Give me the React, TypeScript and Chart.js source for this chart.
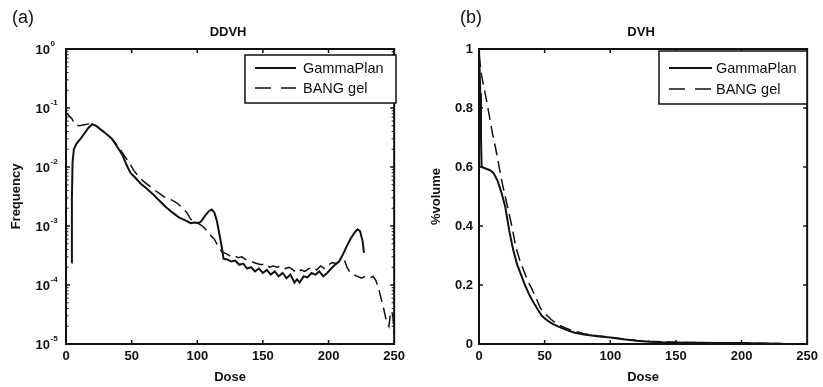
import React, { useEffect, useRef } from "react";
import { Chart, registerables } from "chart.js";

Chart.register(...registerables);

const FONT = '"Liberation Sans", Arial, Helvetica, sans-serif';
const INK = "#111";

// ---- tick values ----
const doseTicks = [0, 50, 100, 150, 200, 250];
const ddvhExponents = [-5, -4, -3, -2, -1, 0];
const dvhTicks = [0, 0.2, 0.4, 0.6, 0.8, 1];
const seriesLabels = ["GammaPlan", "BANG gel"];

// ---- (a) DDVH : GammaPlan ----
const ddvhGammaDose = [4, 4.5, 5, 6, 8, 11, 14, 17, 20, 23, 27, 31, 35, 39, 43, 46, 49, 53, 57, 61, 66, 71, 76, 81, 86, 91, 95, 98, 101, 103, 106, 109, 111, 113, 115, 117, 119, 120, 123, 126, 129, 132, 135, 138, 141, 144, 147, 150, 153, 156, 159, 162, 165, 168, 171, 174, 176, 178, 181, 184, 187, 190, 193, 196, 199, 202, 205, 208, 211, 214, 217, 220, 222, 224, 226, 227];
const ddvhGammaFreq = [2.4e-4, 0.003, 0.012, 0.02, 0.025, 0.03, 0.037, 0.046, 0.053, 0.05, 0.042, 0.036, 0.03, 0.022, 0.016, 0.011, 0.008, 0.0065, 0.0052, 0.0044, 0.0035, 0.0027, 0.0021, 0.0017, 0.0014, 0.00125, 0.00112, 0.00115, 0.00112, 0.0012, 0.0015, 0.0018, 0.0019, 0.0017, 0.0012, 0.0007, 0.0004, 0.00028, 0.00027, 0.00025, 0.00026, 0.00022, 0.00023, 0.00019, 0.0002, 0.00017, 0.00019, 0.00016, 0.00018, 0.00015, 0.00017, 0.00014, 0.00016, 0.00013, 0.00015, 0.00011, 0.000125, 0.00011, 0.00014, 0.000135, 0.00016, 0.00015, 0.00017, 0.00014, 0.00016, 0.00019, 0.00022, 0.00025, 0.00033, 0.00046, 0.00062, 0.00078, 0.00088, 0.00082, 0.00055, 0.00035];

// ---- (a) DDVH : BANG gel ----
const ddvhBangDose = [0, 2, 4.5, 7, 10, 14, 18, 21, 25, 30, 35, 40, 44, 48, 52, 56, 60, 65, 70, 75, 80, 84, 88, 92, 95, 98, 101, 104, 107, 110, 113, 116, 119, 122, 125, 128, 131, 134, 137, 140, 143, 146, 149, 152, 155, 158, 161, 164, 167, 170, 173, 176, 179, 182, 185, 188, 191, 194, 197, 200, 203, 206, 209, 212, 214, 216, 219, 222, 225, 228, 231, 234, 236, 238, 240, 242, 244, 246, 247, 248, 249, 250];
const ddvhBangFreq = [0.085, 0.075, 0.066, 0.052, 0.05, 0.052, 0.054, 0.053, 0.046, 0.038, 0.03, 0.022, 0.016, 0.012, 0.0085, 0.0066, 0.0055, 0.0045, 0.0037, 0.0031, 0.0028, 0.0025, 0.0021, 0.0017, 0.0013, 0.0012, 0.0011, 0.001, 0.00085, 0.0007, 0.0006, 0.00045, 0.00036, 0.00034, 0.00031, 0.00032, 0.00029, 0.0003, 0.00027, 0.00026, 0.00024, 0.00023, 0.00022, 0.00023, 0.0002, 0.00021, 0.0002, 0.00021, 0.00019, 0.0002, 0.00018, 0.00016, 0.00018, 0.00017, 0.00019, 0.0002, 0.00018, 0.00021, 0.00019, 0.00022, 0.00024, 0.00023, 0.00026, 0.00027, 0.0002, 0.00017, 0.00015, 0.00014, 0.00013, 0.00014, 0.00013, 0.00014, 0.00012, 0.00009, 0.00006, 0.00004, 0.000025, 0.00002, 0.00003, 0.000036, 0.00003, 0.000015];

// ---- (b) DVH : GammaPlan ----
const dvhGammaDose = [0, 1, 1.5, 2, 5, 8, 11, 14, 17, 20, 23, 26, 29, 32, 35, 38, 41, 45, 48, 52, 56, 61, 67, 73, 80, 90, 100, 110, 120, 130, 140, 150, 160, 170, 180, 190, 200, 210, 220, 230, 250];
const dvhGammaVol = [1.0, 0.85, 0.7, 0.6, 0.595, 0.59, 0.58, 0.555, 0.515, 0.465, 0.385, 0.32, 0.27, 0.235, 0.2, 0.17, 0.145, 0.115, 0.095, 0.08, 0.068, 0.058, 0.047, 0.038, 0.032, 0.026, 0.022, 0.016, 0.011, 0.008, 0.006, 0.005, 0.0045, 0.004, 0.0035, 0.003, 0.003, 0.0025, 0.002, 0.0005, 0];

// ---- (b) DVH : BANG gel ----
const dvhBangDose = [0, 2, 6, 10, 13.5, 17, 21, 25, 28, 31, 34, 37, 40.5, 44, 47, 51, 55, 60, 66, 72, 80, 90, 100, 110, 120, 130, 140, 150, 160, 170, 180, 190, 200, 210, 220, 235, 250];
const dvhBangVol = [0.98, 0.91, 0.82, 0.72, 0.645, 0.56, 0.48, 0.4, 0.33, 0.285, 0.25, 0.215, 0.185, 0.15, 0.12, 0.1, 0.083, 0.066, 0.054, 0.044, 0.035, 0.028, 0.023, 0.017, 0.012, 0.009, 0.007, 0.006, 0.005, 0.0045, 0.004, 0.004, 0.0035, 0.003, 0.002, 0.001, 0.0005];

const toPoints = (xs: number[], ys: number[]) => xs.map((x, i) => ({ x, y: ys[i] }));

type Decor = {
  panelLabel: string;
  panelX: number;
  title: string;
  box: { x: number; y: number; w: number; h: number };
  rows: number[];
  lineX: [number, number];
  textX: number;
  logY: boolean;
};

function decorPlugin(d: Decor) {
  return {
    id: "decor",
    afterDraw(chart: any) {
      const { ctx, chartArea: a, scales } = chart;
      const xs = scales.x;
      const ys = scales.y;
      const seg = (x1: number, y1: number, x2: number, y2: number) => {
        ctx.beginPath();
        ctx.moveTo(x1, y1);
        ctx.lineTo(x2, y2);
        ctx.stroke();
      };
      ctx.save();
      ctx.strokeStyle = INK;
      ctx.fillStyle = INK;
      // inward ticks
      ctx.lineWidth = 1.5;
      for (const v of doseTicks) {
        const px = xs.getPixelForValue(v);
        seg(px, a.bottom, px, a.bottom - 4);
        seg(px, a.top, px, a.top + 4);
      }
      const yMajor = d.logY ? ddvhExponents.map((e) => Math.pow(10, e)) : dvhTicks;
      for (const v of yMajor) {
        const py = ys.getPixelForValue(v);
        seg(a.left, py, a.left + 4, py);
        seg(a.right, py, a.right - 4, py);
      }
      if (d.logY) {
        ctx.lineWidth = 1;
        for (const e of ddvhExponents.slice(0, -1)) {
          for (let m = 2; m <= 9; m++) {
            const py = ys.getPixelForValue(m * Math.pow(10, e));
            seg(a.left, py, a.left + 2.5, py);
            seg(a.right, py, a.right - 2.5, py);
          }
        }
        // log tick labels 10^e
        for (const e of ddvhExponents) {
          const py = ys.getPixelForValue(Math.pow(10, e));
          ctx.font = `bold 13px ${FONT}`;
          ctx.textAlign = "right";
          ctx.textBaseline = "middle";
          ctx.fillText("10", 50, py + 1);
          ctx.font = `bold 8px ${FONT}`;
          ctx.textAlign = "left";
          ctx.textBaseline = "alphabetic";
          ctx.fillText(String(e), 50.5, py - 3);
        }
      }
      // frame
      ctx.lineWidth = 2;
      ctx.strokeRect(a.left, a.top, a.right - a.left, a.bottom - a.top);
      // title and panel label
      ctx.font = `bold 13px ${FONT}`;
      ctx.textAlign = "center";
      ctx.textBaseline = "middle";
      ctx.fillText(d.title, (a.left + a.right) / 2 - 2, 32);
      ctx.font = `18px ${FONT}`;
      ctx.textAlign = "left";
      ctx.fillText(d.panelLabel, d.panelX, 18);
      // legend
      const b = d.box;
      ctx.fillStyle = "#fff";
      ctx.fillRect(b.x, b.y, b.w, b.h);
      ctx.lineWidth = 1.5;
      ctx.strokeRect(b.x, b.y, b.w, b.h);
      ctx.fillStyle = INK;
      ctx.font = `14.5px ${FONT}`;
      ctx.textBaseline = "middle";
      seriesLabels.forEach((lab, i) => {
        const y = d.rows[i];
        ctx.lineWidth = i === 0 ? 2 : 1.5;
        ctx.setLineDash(i === 0 ? [] : [16, 10]);
        seg(d.lineX[0], y, d.lineX[1], y);
        ctx.setLineDash([]);
        ctx.fillText(lab, d.textX, y + 1);
      });
      ctx.restore();
    },
  };
}

const tickFont = { family: FONT, size: 13, weight: "bold" as const };

function makeConfig(opts: {
  logY: boolean;
  yWidth: number;
  yTitle: string;
  yTitlePad: number;
  datasets: any[];
  decor: Decor;
}) {
  const yScale: any = opts.logY
    ? {
        type: "logarithmic",
        min: 1e-5,
        max: 1,
        afterBuildTicks: (s: any) => {
          s.ticks = ddvhExponents.map((e) => ({ value: Math.pow(10, e) }));
        },
        ticks: { display: false },
      }
    : {
        type: "linear",
        min: 0,
        max: 1,
        afterBuildTicks: (s: any) => {
          s.ticks = dvhTicks.map((v) => ({ value: v }));
        },
        ticks: {
          font: tickFont,
          color: INK,
          padding: 6,
          autoSkip: false,
          callback: (v: any) => String(v),
        },
      };
  yScale.afterFit = (s: any) => {
    s.width = opts.yWidth;
  };
  yScale.grid = { display: false, drawTicks: false };
  yScale.border = { display: false };
  yScale.title = {
    display: true,
    text: opts.yTitle,
    font: tickFont,
    color: INK,
    padding: { top: opts.yTitlePad, bottom: 0 },
  };
  return {
    type: "line" as const,
    data: { datasets: opts.datasets },
    options: {
      responsive: false,
      animation: false as const,
      devicePixelRatio: 1,
      layout: { padding: { left: 0, right: 11, top: 49, bottom: 0 } },
      plugins: { legend: { display: false }, tooltip: { enabled: false }, title: { display: false } },
      scales: {
        x: {
          type: "linear",
          min: 0,
          max: 250,
          afterBuildTicks: (s: any) => {
            s.ticks = doseTicks.map((v) => ({ value: v }));
          },
          afterFit: (s: any) => {
            s.height = 43;
          },
          grid: { display: false, drawTicks: false },
          border: { display: false },
          ticks: {
            font: tickFont,
            color: INK,
            padding: 5,
            maxRotation: 0,
            autoSkip: false,
            callback: (v: any) => String(v),
          },
          title: {
            display: true,
            text: "Dose",
            font: tickFont,
            color: INK,
            padding: { top: 0, bottom: 2 },
          },
        },
        y: yScale,
      },
    },
    plugins: [decorPlugin(opts.decor)],
  };
}

const solid = (label: string, data: any[]) => ({
  label,
  data,
  borderColor: INK,
  borderWidth: 2,
  pointRadius: 0,
  fill: false,
  tension: 0,
});
const dashed = (label: string, data: any[]) => ({
  label,
  data,
  borderColor: INK,
  borderWidth: 1.5,
  borderDash: [12, 6],
  pointRadius: 0,
  fill: false,
  tension: 0,
});

export default function App() {
  const leftRef = useRef<HTMLCanvasElement | null>(null);
  const rightRef = useRef<HTMLCanvasElement | null>(null);

  useEffect(() => {
    Chart.defaults.font.family = FONT;
    Chart.defaults.color = INK;
    const left = new Chart(
      leftRef.current as HTMLCanvasElement,
      makeConfig({
        logY: true,
        yWidth: 66,
        yTitle: "Frequency",
        yTitlePad: 9,
        datasets: [
          solid(seriesLabels[0], toPoints(ddvhGammaDose, ddvhGammaFreq)),
          dashed(seriesLabels[1], toPoints(ddvhBangDose, ddvhBangFreq)),
        ],
        decor: {
          panelLabel: "(a)",
          panelX: 12,
          title: "DDVH",
          box: { x: 245, y: 55, w: 151, h: 48 },
          rows: [68, 88],
          lineX: [255, 296],
          textX: 303,
          logY: true,
        },
      }) as any
    );
    const right = new Chart(
      rightRef.current as HTMLCanvasElement,
      makeConfig({
        logY: false,
        yWidth: 69,
        yTitle: "%volume",
        yTitlePad: 19,
        datasets: [
          solid(seriesLabels[0], toPoints(dvhGammaDose, dvhGammaVol)),
          dashed(seriesLabels[1], toPoints(dvhBangDose, dvhBangVol)),
        ],
        decor: {
          panelLabel: "(b)",
          panelX: 50,
          title: "DVH",
          box: { x: 249, y: 51, w: 148, h: 53 },
          rows: [68, 89],
          lineX: [259, 302],
          textX: 306,
          logY: false,
        },
      }) as any
    );
    return () => {
      left.destroy();
      right.destroy();
    };
  }, []);

  return (
    <div style={{ position: "fixed", left: 0, top: 0, width: 823, height: 387, background: "#fff" }}>
      <canvas ref={leftRef} width={410} height={387} style={{ position: "absolute", left: 0, top: 0 }} />
      <canvas ref={rightRef} width={413} height={387} style={{ position: "absolute", left: 410, top: 0 }} />
    </div>
  );
}
